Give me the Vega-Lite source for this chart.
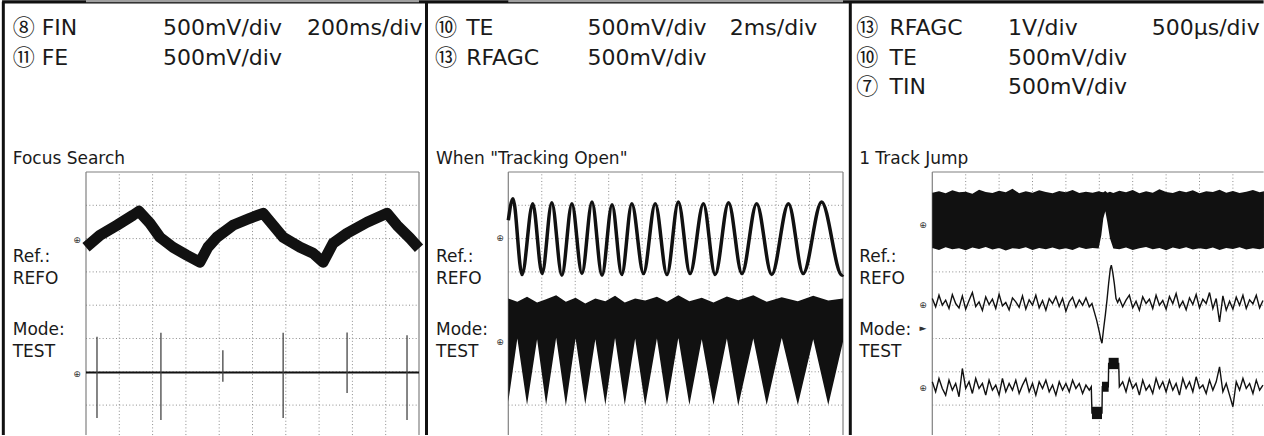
{
  "$schema": "https://vega.github.io/schema/vega-lite/v6.json",
  "padding": 0,
  "spacing": 0,
  "bounds": "flush",
  "background": "white",
  "config": {
    "view": {"stroke": null},
    "axis": {"disable": true},
    "legend": {"disable": true},
    "text": {"font": "DejaVu Sans", "color": "#1a1a1a", "align": "left", "baseline": "alphabetic"}
  },
  "datasets": {
    "gx": [{"t": -4, "v": -3.9, "v2": 4}, {"t": -3, "v": -3.9, "v2": 4}, {"t": -2, "v": -3.9, "v2": 4}, {"t": -1, "v": -3.9, "v2": 4}, {"t": 0, "v": -3.9, "v2": 4}, {"t": 1, "v": -3.9, "v2": 4}, {"t": 2, "v": -3.9, "v2": 4}, {"t": 3, "v": -3.9, "v2": 4}, {"t": 4, "v": -3.9, "v2": 4}],
    "gy": [{"v": -3, "t": -5, "t2": 5}, {"v": -2, "t": -5, "t2": 5}, {"v": -1, "t": -5, "t2": 5}, {"v": 0, "t": -5, "t2": 5}, {"v": 1, "t": -5, "t2": 5}, {"v": 2, "t": -5, "t2": 5}, {"v": 3, "t": -5, "t2": 5}],
    "gy3": [{"v": -3, "t": -5, "t2": 4.92}, {"v": -2, "t": -5, "t2": 4.92}, {"v": -1, "t": -5, "t2": 4.92}, {"v": 0, "t": -5, "t2": 4.92}, {"v": 1, "t": -5, "t2": 4.92}, {"v": 2, "t": -5, "t2": 4.92}, {"v": 3, "t": -5, "t2": 4.92}],
    "fv": [{"t": -5, "v": -3.9, "v2": 4}, {"t": 5, "v": -3.9, "v2": 4}],
    "fv3": [{"t": -5, "v": -3.9, "v2": 4}],
    "fh": [{"v": 4, "t": -5, "t2": 5}],
    "fh3": [{"v": 4, "t": -5, "t2": 4.92}],
    "tx": [{"t": -4.8}, {"t": -4.6}, {"t": -4.4}, {"t": -4.2}, {"t": -4}, {"t": -3.8}, {"t": -3.6}, {"t": -3.4}, {"t": -3.2}, {"t": -3}, {"t": -2.8}, {"t": -2.6}, {"t": -2.4}, {"t": -2.2}, {"t": -2}, {"t": -1.8}, {"t": -1.6}, {"t": -1.4}, {"t": -1.2}, {"t": -1}, {"t": -0.8}, {"t": -0.6}, {"t": -0.4}, {"t": -0.2}, {"t": 0.2}, {"t": 0.4}, {"t": 0.6}, {"t": 0.8}, {"t": 1}, {"t": 1.2}, {"t": 1.4}, {"t": 1.6}, {"t": 1.8}, {"t": 2}, {"t": 2.2}, {"t": 2.4}, {"t": 2.6}, {"t": 2.8}, {"t": 3}, {"t": 3.2}, {"t": 3.4}, {"t": 3.6}, {"t": 3.8}, {"t": 4}, {"t": 4.2}, {"t": 4.4}, {"t": 4.6}, {"t": 4.8}],
    "ty": [{"v": -3.8}, {"v": -3.6}, {"v": -3.4}, {"v": -3.2}, {"v": -3}, {"v": -2.8}, {"v": -2.6}, {"v": -2.4}, {"v": -2.2}, {"v": -2}, {"v": -1.8}, {"v": -1.6}, {"v": -1.4}, {"v": -1.2}, {"v": -1}, {"v": -0.8}, {"v": -0.6}, {"v": -0.4}, {"v": -0.2}, {"v": 0.2}, {"v": 0.4}, {"v": 0.6}, {"v": 0.8}, {"v": 1}, {"v": 1.2}, {"v": 1.4}, {"v": 1.6}, {"v": 1.8}, {"v": 2}, {"v": 2.2}, {"v": 2.4}, {"v": 2.6}, {"v": 2.8}, {"v": 3}, {"v": 3.2}, {"v": 3.4}, {"v": 3.6}, {"v": 3.8}],
    "p1_fin": [
      {"t": -5.0, "v": 1.74}, {"t": -4.58, "v": 2.10}, {"t": -4.07, "v": 2.40}, {"t": -3.59, "v": 2.70}, {"t": -3.41, "v": 2.82},
      {"t": -3.08, "v": 2.46}, {"t": -2.78, "v": 2.04}, {"t": -2.39, "v": 1.74}, {"t": -1.97, "v": 1.50}, {"t": -1.58, "v": 1.29},
      {"t": -1.34, "v": 1.74}, {"t": -1.07, "v": 2.04}, {"t": -0.59, "v": 2.40}, {"t": -0.08, "v": 2.61}, {"t": 0.32, "v": 2.76},
      {"t": 0.62, "v": 2.40}, {"t": 0.92, "v": 2.04}, {"t": 1.43, "v": 1.74}, {"t": 1.82, "v": 1.56}, {"t": 2.12, "v": 1.29},
      {"t": 2.42, "v": 1.86}, {"t": 2.84, "v": 2.16}, {"t": 3.44, "v": 2.49}, {"t": 4.04, "v": 2.76},
      {"t": 4.34, "v": 2.40}, {"t": 4.73, "v": 2.01}, {"t": 5.0, "v": 1.71}
    ],
    "p1_fe": [{"t": -5.0, "v": -2.02}, {"t": 5.0, "v": -2.02}],
    "p1_spk": [
      {"t": -4.67, "v": -0.95, "v2": -3.39}, {"t": -2.75, "v": -0.83, "v2": -3.45}, {"t": -0.89, "v": -1.35, "v2": -2.3},
      {"t": 0.92, "v": -0.83, "v2": -3.39}, {"t": 2.84, "v": -0.82, "v2": -2.64}, {"t": 4.64, "v": -0.9, "v2": -3.45}
    ],
    "p1_mk": [{"t": -5.27, "v": 1.96, "label": "⊕"}, {"t": -5.27, "v": -2.07, "label": "⊕"}],
    "p1_top": [{"t": -7.52, "t2": 5.2402, "v": 9.11}],
    "p1_left": [{"t": -7.483, "v": -3.9, "v2": 9.11}],
    "p1_num": [{"t": -7.2, "v": 8.11, "label": "⑧"}, {"t": -7.2, "v": 7.21, "label": "⑪"}],
    "p1_head": [
      {"t": -6.33, "v": 8.11, "label": "FIN"}, {"t": -2.69, "v": 8.11, "label": "500mV/div"}, {"t": 1.64, "v": 8.11, "label": "200ms/div"},
      {"t": -6.33, "v": 7.21, "label": "FE"}, {"t": -2.69, "v": 7.21, "label": "500mV/div"}
    ],
    "p1_side": [
      {"t": -7.2, "v": 4.24, "label": "Focus Search"}, {"t": -7.2, "v": 1.31, "label": "Ref.:"}, {"t": -7.2, "v": 0.64, "label": "REFO"},
      {"t": -7.2, "v": -0.88, "label": "Mode:"}, {"t": -7.2, "v": -1.55, "label": "TEST"}
    ],
    "p2_te": [
      {"t": -5.0, "v": 2.55}, {"t": -4.86, "v": 3.2}, {"t": -4.59, "v": 0.92}, {"t": -4.27, "v": 3.05}, {"t": -3.99, "v": 0.95},
      {"t": -3.70, "v": 3.08}, {"t": -3.40, "v": 0.9}, {"t": -3.10, "v": 3.05}, {"t": -2.80, "v": 0.95}, {"t": -2.50, "v": 3.1},
      {"t": -2.20, "v": 0.9}, {"t": -1.90, "v": 3.02}, {"t": -1.61, "v": 0.92}, {"t": -1.31, "v": 3.05}, {"t": -0.96, "v": 0.95},
      {"t": -0.61, "v": 3.05}, {"t": -0.26, "v": 0.92}, {"t": 0.08, "v": 3.1}, {"t": 0.43, "v": 0.95}, {"t": 0.83, "v": 3.05},
      {"t": 1.18, "v": 0.92}, {"t": 1.58, "v": 3.08}, {"t": 1.98, "v": 0.95}, {"t": 2.42, "v": 3.05}, {"t": 2.87, "v": 0.92},
      {"t": 3.37, "v": 3.05}, {"t": 3.81, "v": 0.95}, {"t": 4.36, "v": 3.1}, {"t": 4.97, "v": 0.9}, {"t": 5.0, "v": 0.92}
    ],
    "p2_rf": [
      {"t": -5.0, "v": 0.2, "v2": -2.9}, {"t": -4.73, "v": 0.1, "v2": -1.0}, {"t": -4.44, "v": 0.25, "v2": -3.0},
      {"t": -4.14, "v": 0.08, "v2": -1.02}, {"t": -3.87, "v": 0.18, "v2": -3.0}, {"t": -3.57, "v": 0.3, "v2": -0.98},
      {"t": -3.28, "v": 0.1, "v2": -3.02}, {"t": -2.99, "v": 0.22, "v2": -1.0}, {"t": -2.70, "v": 0.05, "v2": -2.98},
      {"t": -2.40, "v": 0.2, "v2": -1.02}, {"t": -2.10, "v": 0.12, "v2": -3.0}, {"t": -1.81, "v": 0.28, "v2": -0.98},
      {"t": -1.52, "v": 0.08, "v2": -3.0}, {"t": -1.21, "v": 0.2, "v2": -1.0}, {"t": -0.91, "v": 0.14, "v2": -3.02},
      {"t": -0.56, "v": 0.25, "v2": -1.0}, {"t": -0.26, "v": 0.1, "v2": -3.0}, {"t": 0.08, "v": 0.3, "v2": -0.98},
      {"t": 0.41, "v": 0.12, "v2": -3.0}, {"t": 0.78, "v": 0.22, "v2": -1.02}, {"t": 1.13, "v": 0.08, "v2": -3.0},
      {"t": 1.53, "v": 0.26, "v2": -1.0}, {"t": 1.87, "v": 0.15, "v2": -3.02}, {"t": 2.32, "v": 0.3, "v2": -1.0},
      {"t": 2.72, "v": 0.1, "v2": -3.0}, {"t": 3.17, "v": 0.24, "v2": -0.98}, {"t": 3.65, "v": 0.12, "v2": -3.0},
      {"t": 4.11, "v": 0.28, "v2": -1.02}, {"t": 4.56, "v": 0.14, "v2": -3.0}, {"t": 5.0, "v": 0.2, "v2": -1.1}
    ],
    "p2_mk": [{"t": -5.25, "v": 2.02, "label": "⊕"}, {"t": -5.25, "v": -1.11, "label": "⊕"}],
    "p2_top": [{"t": -7.429, "t2": 5.209, "v": 9.11}],
    "p2_left": [{"t": -7.444, "v": -3.9, "v2": 9.11}],
    "p2_num": [{"t": -7.19, "v": 8.11, "label": "⑩"}, {"t": -7.19, "v": 7.21, "label": "⑬"}],
    "p2_head": [
      {"t": -6.26, "v": 8.11, "label": "TE"}, {"t": -2.63, "v": 8.11, "label": "500mV/div"}, {"t": 1.62, "v": 8.11, "label": "2ms/div"},
      {"t": -6.26, "v": 7.21, "label": "RFAGC"}, {"t": -2.63, "v": 7.21, "label": "500mV/div"}
    ],
    "p2_side": [
      {"t": -7.16, "v": 4.24, "label": "When \"Tracking Open\""}, {"t": -7.16, "v": 1.31, "label": "Ref.:"}, {"t": -7.16, "v": 0.64, "label": "REFO"},
      {"t": -7.16, "v": -0.88, "label": "Mode:"}, {"t": -7.16, "v": -1.55, "label": "TEST"}
    ],
    "p3_rf": [
      {"t": -5.0, "v": 3.38, "v2": 1.72}, {"t": -4.8, "v": 3.42, "v2": 1.66}, {"t": -4.6, "v": 3.36, "v2": 1.74}, {"t": -4.4, "v": 3.45, "v2": 1.68},
      {"t": -4.2, "v": 3.39, "v2": 1.71}, {"t": -4.0, "v": 3.41, "v2": 1.65}, {"t": -3.8, "v": 3.35, "v2": 1.73}, {"t": -3.6, "v": 3.47, "v2": 1.69},
      {"t": -3.4, "v": 3.40, "v2": 1.75}, {"t": -3.2, "v": 3.37, "v2": 1.67}, {"t": -3.0, "v": 3.44, "v2": 1.72}, {"t": -2.8, "v": 3.39, "v2": 1.64},
      {"t": -2.6, "v": 3.50, "v2": 1.71}, {"t": -2.4, "v": 3.36, "v2": 1.69}, {"t": -2.2, "v": 3.42, "v2": 1.74}, {"t": -2.0, "v": 3.38, "v2": 1.66},
      {"t": -1.8, "v": 3.45, "v2": 1.72}, {"t": -1.6, "v": 3.40, "v2": 1.68}, {"t": -1.4, "v": 3.36, "v2": 1.73}, {"t": -1.2, "v": 3.43, "v2": 1.67},
      {"t": -1.0, "v": 3.39, "v2": 1.71}, {"t": -0.8, "v": 3.46, "v2": 1.66}, {"t": -0.6, "v": 3.37, "v2": 1.74}, {"t": -0.4, "v": 3.41, "v2": 1.69},
      {"t": -0.2, "v": 3.38, "v2": 1.72}, {"t": -0.02, "v": 3.42, "v2": 1.70}, {"t": 0.06, "v": 3.40, "v2": 2.1}, {"t": 0.12, "v": 3.39, "v2": 2.6},
      {"t": 0.18, "v": 3.43, "v2": 2.82}, {"t": 0.24, "v": 3.38, "v2": 2.5}, {"t": 0.32, "v": 3.41, "v2": 2.0}, {"t": 0.42, "v": 3.37, "v2": 1.70},
      {"t": 0.6, "v": 3.44, "v2": 1.68}, {"t": 0.8, "v": 3.39, "v2": 1.73}, {"t": 1.0, "v": 3.46, "v2": 1.66}, {"t": 1.2, "v": 3.36, "v2": 1.71},
      {"t": 1.4, "v": 3.42, "v2": 1.75}, {"t": 1.6, "v": 3.38, "v2": 1.68}, {"t": 1.8, "v": 3.48, "v2": 1.72}, {"t": 2.0, "v": 3.40, "v2": 1.65},
      {"t": 2.2, "v": 3.37, "v2": 1.73}, {"t": 2.4, "v": 3.44, "v2": 1.69}, {"t": 2.6, "v": 3.39, "v2": 1.74}, {"t": 2.8, "v": 3.45, "v2": 1.67},
      {"t": 3.0, "v": 3.36, "v2": 1.71}, {"t": 3.2, "v": 3.42, "v2": 1.68}, {"t": 3.4, "v": 3.40, "v2": 1.73}, {"t": 3.6, "v": 3.47, "v2": 1.66},
      {"t": 3.8, "v": 3.38, "v2": 1.72}, {"t": 4.0, "v": 3.43, "v2": 1.69}, {"t": 4.2, "v": 3.37, "v2": 1.74}, {"t": 4.4, "v": 3.41, "v2": 1.67},
      {"t": 4.6, "v": 3.46, "v2": 1.71}, {"t": 4.8, "v": 3.39, "v2": 1.68}, {"t": 4.93, "v": 3.42, "v2": 1.72}
    ],
    "p3_te": [
      {"t": -5.0, "v": 0.2}, {"t": -4.9, "v": -0.05}, {"t": -4.8, "v": 0.3}, {"t": -4.7, "v": 0.0}, {"t": -4.6, "v": 0.15},
      {"t": -4.5, "v": -0.1}, {"t": -4.4, "v": 0.32}, {"t": -4.3, "v": 0.05}, {"t": -4.2, "v": -0.08}, {"t": -4.1, "v": 0.28},
      {"t": -4.0, "v": -0.12}, {"t": -3.9, "v": 0.14}, {"t": -3.8, "v": 0.38}, {"t": -3.7, "v": -0.04}, {"t": -3.6, "v": 0.1},
      {"t": -3.5, "v": -0.16}, {"t": -3.4, "v": 0.25}, {"t": -3.3, "v": 0.02}, {"t": -3.2, "v": 0.18}, {"t": -3.1, "v": -0.1},
      {"t": -3.0, "v": 0.33}, {"t": -2.9, "v": -0.02}, {"t": -2.8, "v": 0.08}, {"t": -2.7, "v": -0.14}, {"t": -2.6, "v": 0.22},
      {"t": -2.5, "v": 0.1}, {"t": -2.4, "v": -0.06}, {"t": -2.3, "v": 0.28}, {"t": -2.2, "v": -0.12}, {"t": -2.1, "v": 0.16},
      {"t": -2.0, "v": 0.0}, {"t": -1.9, "v": 0.3}, {"t": -1.8, "v": -0.08}, {"t": -1.7, "v": 0.14}, {"t": -1.6, "v": -0.15},
      {"t": -1.5, "v": 0.2}, {"t": -1.4, "v": 0.05}, {"t": -1.3, "v": 0.26}, {"t": -1.2, "v": -0.04}, {"t": -1.1, "v": 0.2},
      {"t": -1.0, "v": -0.18}, {"t": -0.9, "v": 0.1}, {"t": -0.8, "v": 0.24}, {"t": -0.7, "v": -0.06}, {"t": -0.6, "v": 0.16},
      {"t": -0.5, "v": 0.0}, {"t": -0.4, "v": 0.22}, {"t": -0.3, "v": -0.05},
      {"t": -0.22, "v": 0.05}, {"t": -0.15, "v": -0.2}, {"t": -0.08, "v": -0.45}, {"t": 0.0, "v": -0.8}, {"t": 0.05, "v": -1.05},
      {"t": 0.08, "v": -1.14}, {"t": 0.13, "v": -0.7}, {"t": 0.18, "v": -0.3}, {"t": 0.23, "v": 0.15}, {"t": 0.28, "v": 0.66},
      {"t": 0.33, "v": 1.1}, {"t": 0.36, "v": 1.2}, {"t": 0.40, "v": 1.0}, {"t": 0.45, "v": 0.65}, {"t": 0.5, "v": 0.2}, {"t": 0.55, "v": 0.08},
      {"t": 0.6, "v": 0.2}, {"t": 0.7, "v": -0.05}, {"t": 0.8, "v": 0.15}, {"t": 0.9, "v": 0.3}, {"t": 1.0, "v": -0.08},
      {"t": 1.1, "v": 0.12}, {"t": 1.2, "v": -0.15}, {"t": 1.3, "v": 0.25}, {"t": 1.4, "v": 0.05}, {"t": 1.5, "v": 0.18},
      {"t": 1.6, "v": -0.1}, {"t": 1.7, "v": 0.3}, {"t": 1.8, "v": 0.0}, {"t": 1.9, "v": 0.14}, {"t": 2.0, "v": -0.12},
      {"t": 2.1, "v": 0.26}, {"t": 2.2, "v": 0.05}, {"t": 2.3, "v": 0.35}, {"t": 2.4, "v": -0.06}, {"t": 2.5, "v": 0.12},
      {"t": 2.6, "v": -0.14}, {"t": 2.7, "v": 0.22}, {"t": 2.8, "v": 0.02}, {"t": 2.9, "v": 0.32}, {"t": 3.0, "v": -0.08},
      {"t": 3.1, "v": 0.18}, {"t": 3.2, "v": 0.05}, {"t": 3.3, "v": 0.38}, {"t": 3.4, "v": -0.1}, {"t": 3.5, "v": 0.2},
      {"t": 3.6, "v": -0.5}, {"t": 3.7, "v": 0.28}, {"t": 3.8, "v": -0.15}, {"t": 3.9, "v": 0.12}, {"t": 4.0, "v": -0.12},
      {"t": 4.1, "v": 0.24}, {"t": 4.2, "v": 0.0}, {"t": 4.3, "v": 0.3}, {"t": 4.4, "v": -0.1}, {"t": 4.5, "v": 0.16},
      {"t": 4.6, "v": 0.04}, {"t": 4.7, "v": 0.3}, {"t": 4.8, "v": -0.08}, {"t": 4.9, "v": 0.14}
    ],
    "p3_tin": [
      {"t": -5.0, "v": -2.3}, {"t": -4.9, "v": -2.6}, {"t": -4.8, "v": -2.2}, {"t": -4.7, "v": -2.5}, {"t": -4.6, "v": -2.7},
      {"t": -4.5, "v": -2.25}, {"t": -4.4, "v": -2.55}, {"t": -4.3, "v": -2.35}, {"t": -4.2, "v": -2.75}, {"t": -4.1, "v": -1.9},
      {"t": -4.0, "v": -2.5}, {"t": -3.9, "v": -2.3}, {"t": -3.8, "v": -2.65}, {"t": -3.7, "v": -2.2}, {"t": -3.6, "v": -2.5},
      {"t": -3.5, "v": -2.35}, {"t": -3.4, "v": -2.7}, {"t": -3.3, "v": -2.25}, {"t": -3.2, "v": -2.55}, {"t": -3.1, "v": -2.4},
      {"t": -3.0, "v": -2.7}, {"t": -2.9, "v": -2.2}, {"t": -2.8, "v": -2.6}, {"t": -2.7, "v": -2.35}, {"t": -2.6, "v": -2.55},
      {"t": -2.5, "v": -2.25}, {"t": -2.4, "v": -2.65}, {"t": -2.3, "v": -2.4}, {"t": -2.2, "v": -2.2}, {"t": -2.1, "v": -2.6},
      {"t": -2.0, "v": -2.35}, {"t": -1.9, "v": -2.7}, {"t": -1.8, "v": -2.3}, {"t": -1.7, "v": -2.5}, {"t": -1.6, "v": -2.25},
      {"t": -1.5, "v": -2.6}, {"t": -1.4, "v": -2.4}, {"t": -1.3, "v": -2.7}, {"t": -1.2, "v": -2.3}, {"t": -1.1, "v": -2.55},
      {"t": -1.0, "v": -2.35}, {"t": -0.9, "v": -2.6}, {"t": -0.8, "v": -2.25}, {"t": -0.7, "v": -2.5}, {"t": -0.6, "v": -2.35},
      {"t": -0.5, "v": -2.65}, {"t": -0.4, "v": -2.4}, {"t": -0.3, "v": -2.55},
      {"t": -0.24, "v": -2.45}, {"t": -0.22, "v": -3.24}, {"t": 0.08, "v": -3.24}, {"t": 0.09, "v": -2.45}, {"t": 0.27, "v": -2.45},
      {"t": 0.28, "v": -1.75}, {"t": 0.58, "v": -1.75}, {"t": 0.6, "v": -2.45},
      {"t": 0.7, "v": -2.3}, {"t": 0.8, "v": -2.6}, {"t": 0.9, "v": -2.2}, {"t": 1.0, "v": -2.5}, {"t": 1.1, "v": -2.35},
      {"t": 1.2, "v": -2.7}, {"t": 1.3, "v": -2.25}, {"t": 1.4, "v": -2.55}, {"t": 1.5, "v": -2.4}, {"t": 1.6, "v": -2.65},
      {"t": 1.7, "v": -2.2}, {"t": 1.8, "v": -2.5}, {"t": 1.9, "v": -2.3}, {"t": 2.0, "v": -2.6}, {"t": 2.1, "v": -2.25},
      {"t": 2.2, "v": -2.55}, {"t": 2.3, "v": -2.35}, {"t": 2.4, "v": -2.7}, {"t": 2.5, "v": -2.2}, {"t": 2.6, "v": -2.5},
      {"t": 2.7, "v": -2.3}, {"t": 2.8, "v": -2.6}, {"t": 2.9, "v": -2.15}, {"t": 3.0, "v": -2.5}, {"t": 3.1, "v": -2.4},
      {"t": 3.2, "v": -2.65}, {"t": 3.3, "v": -2.25}, {"t": 3.4, "v": -2.55}, {"t": 3.5, "v": -2.3}, {"t": 3.6, "v": -1.85},
      {"t": 3.7, "v": -2.6}, {"t": 3.8, "v": -2.35}, {"t": 3.9, "v": -2.7}, {"t": 4.0, "v": -3.05}, {"t": 4.1, "v": -2.3},
      {"t": 4.2, "v": -2.55}, {"t": 4.3, "v": -2.2}, {"t": 4.4, "v": -2.5}, {"t": 4.5, "v": -2.35}, {"t": 4.6, "v": -2.65},
      {"t": 4.7, "v": -2.25}, {"t": 4.8, "v": -2.55}, {"t": 4.9, "v": -2.4}
    ],
    "p3_blk": [
      {"t": -0.22, "t2": 0.08, "v": -3.05, "v2": -3.42},
      {"t": 0.08, "t2": 0.28, "v": -2.3, "v2": -2.6},
      {"t": 0.28, "t2": 0.58, "v": -1.58, "v2": -1.92}
    ],
    "p3_mk": [{"t": -5.28, "v": 2.41, "label": "⊕"}, {"t": -5.28, "v": 0.01, "label": "⊕"}, {"t": -5.28, "v": -0.68, "label": "►"}, {"t": -5.28, "v": -2.48, "label": "⊕"}],
    "p3_top": [{"t": -7.464, "t2": 4.92, "v": 9.11}],
    "p3_left": [{"t": -7.455, "v": -3.9, "v2": 9.11}],
    "p3_num": [{"t": -7.28, "v": 8.11, "label": "⑬"}, {"t": -7.28, "v": 7.21, "label": "⑩"}, {"t": -7.28, "v": 6.33, "label": "⑦"}],
    "p3_head": [
      {"t": -6.28, "v": 8.11, "label": "RFAGC"}, {"t": -2.73, "v": 8.11, "label": "1V/div"}, {"t": 1.57, "v": 8.11, "label": "500μs/div"},
      {"t": -6.28, "v": 7.21, "label": "TE"}, {"t": -2.73, "v": 7.21, "label": "500mV/div"},
      {"t": -6.28, "v": 6.33, "label": "TIN"}, {"t": -2.73, "v": 6.33, "label": "500mV/div"}
    ],
    "p3_side": [
      {"t": -7.19, "v": 4.24, "label": "1 Track Jump"}, {"t": -7.19, "v": 1.31, "label": "Ref.:"}, {"t": -7.19, "v": 0.64, "label": "REFO"},
      {"t": -7.19, "v": -0.88, "label": "Mode:"}, {"t": -7.19, "v": -1.55, "label": "TEST"}
    ]
  },
  "hconcat": [
    {
      "width": 427,
      "height": 436,
      "encoding": {
        "x": {"field": "t", "type": "quantitative", "scale": {"domain": [-7.5826, 5.2402], "nice": false, "zero": false}},
        "y": {"field": "v", "type": "quantitative", "scale": {"domain": [-3.928, 9.165], "nice": false, "zero": false}}
      },
      "layer": [
        {"data": {"name": "gx"}, "mark": {"type": "rule", "color": "#8c8c8c", "strokeWidth": 1, "strokeDash": [1, 2.33]}, "encoding": {"y2": {"field": "v2"}}},
        {"data": {"name": "gy"}, "mark": {"type": "rule", "color": "#8c8c8c", "strokeWidth": 1, "strokeDash": [1, 2.33]}, "encoding": {"x2": {"field": "t2"}}},
        {"data": {"name": "tx"}, "mark": {"type": "tick", "orient": "vertical", "color": "#8c8c8c", "thickness": 1, "size": 6}, "encoding": {"y": {"datum": 0}}},
        {"data": {"name": "ty"}, "mark": {"type": "tick", "orient": "horizontal", "color": "#8c8c8c", "thickness": 1, "size": 6}, "encoding": {"x": {"datum": 0}}},
        {"data": {"name": "fv"}, "mark": {"type": "rule", "color": "#808080", "strokeWidth": 1.2}, "encoding": {"y2": {"field": "v2"}}},
        {"data": {"name": "fh"}, "mark": {"type": "rule", "color": "#808080", "strokeWidth": 1.2}, "encoding": {"x2": {"field": "t2"}}},
        {"data": {"name": "p1_fin"}, "mark": {"type": "line", "color": "#111", "strokeWidth": 11, "strokeJoin": "round", "strokeCap": "butt"}, "encoding": {}},
        {"data": {"name": "p1_fe"}, "mark": {"type": "line", "color": "#111", "strokeWidth": 2}, "encoding": {}},
        {"data": {"name": "p1_spk"}, "mark": {"type": "rule", "color": "#444", "strokeWidth": 1.3}, "encoding": {"y2": {"field": "v2"}}},
        {"data": {"name": "p1_mk"}, "mark": {"type": "text", "fontSize": 9, "align": "center", "baseline": "middle", "color": "#333"}, "encoding": {"text": {"field": "label"}}},
        {"data": {"name": "p1_top"}, "mark": {"type": "rule", "color": "#111", "strokeWidth": 3.4}, "encoding": {"x2": {"field": "t2"}}},
        {"data": {"name": "fh"}, "mark": {"type": "rule", "color": "#a0a0a0", "strokeWidth": 2.2}, "encoding": {"x2": {"field": "t2"}, "y": {"datum": 9.13}}},
        {"data": {"name": "p1_left"}, "mark": {"type": "rule", "color": "#111", "strokeWidth": 3}, "encoding": {"y2": {"field": "v2"}}},
        {"data": {"name": "p1_num"}, "mark": {"type": "text", "fontSize": 22, "font": "Noto Sans CJK JP"}, "encoding": {"text": {"field": "label"}}},
        {"data": {"name": "p1_head"}, "mark": {"type": "text", "fontSize": 22}, "encoding": {"text": {"field": "label"}}},
        {"data": {"name": "p1_side"}, "mark": {"type": "text", "fontSize": 17}, "encoding": {"text": {"field": "label"}}}
      ]
    },
    {
      "width": 423,
      "height": 436,
      "encoding": {
        "x": {"field": "t", "type": "quantitative", "scale": {"domain": [-7.429, 5.209], "nice": false, "zero": false}},
        "y": {"field": "v", "type": "quantitative", "scale": {"domain": [-3.928, 9.165], "nice": false, "zero": false}}
      },
      "layer": [
        {"data": {"name": "gx"}, "mark": {"type": "rule", "color": "#8c8c8c", "strokeWidth": 1, "strokeDash": [1, 2.33]}, "encoding": {"y2": {"field": "v2"}}},
        {"data": {"name": "gy"}, "mark": {"type": "rule", "color": "#8c8c8c", "strokeWidth": 1, "strokeDash": [1, 2.33]}, "encoding": {"x2": {"field": "t2"}}},
        {"data": {"name": "tx"}, "mark": {"type": "tick", "orient": "vertical", "color": "#8c8c8c", "thickness": 1, "size": 6}, "encoding": {"y": {"datum": 0}}},
        {"data": {"name": "ty"}, "mark": {"type": "tick", "orient": "horizontal", "color": "#8c8c8c", "thickness": 1, "size": 6}, "encoding": {"x": {"datum": 0}}},
        {"data": {"name": "fv"}, "mark": {"type": "rule", "color": "#808080", "strokeWidth": 1.2}, "encoding": {"y2": {"field": "v2"}}},
        {"data": {"name": "fh"}, "mark": {"type": "rule", "color": "#808080", "strokeWidth": 1.2}, "encoding": {"x2": {"field": "t2"}}},
        {"data": {"name": "p2_rf"}, "mark": {"type": "area", "color": "#111", "orient": "vertical", "opacity": 1}, "encoding": {"y2": {"field": "v2"}}},
        {"data": {"name": "p2_te"}, "mark": {"type": "line", "color": "#111", "strokeWidth": 3.5, "interpolate": "monotone"}, "encoding": {}},
        {"data": {"name": "p2_mk"}, "mark": {"type": "text", "fontSize": 9, "align": "center", "baseline": "middle", "color": "#333"}, "encoding": {"text": {"field": "label"}}},
        {"data": {"name": "p2_top"}, "mark": {"type": "rule", "color": "#111", "strokeWidth": 3.4}, "encoding": {"x2": {"field": "t2"}}},
        {"data": {"name": "fh"}, "mark": {"type": "rule", "color": "#a0a0a0", "strokeWidth": 2.2}, "encoding": {"x2": {"field": "t2"}, "y": {"datum": 9.13}}},
        {"data": {"name": "p2_left"}, "mark": {"type": "rule", "color": "#111", "strokeWidth": 3}, "encoding": {"y2": {"field": "v2"}}},
        {"data": {"name": "p2_num"}, "mark": {"type": "text", "fontSize": 22, "font": "Noto Sans CJK JP"}, "encoding": {"text": {"field": "label"}}},
        {"data": {"name": "p2_head"}, "mark": {"type": "text", "fontSize": 22}, "encoding": {"text": {"field": "label"}}},
        {"data": {"name": "p2_side"}, "mark": {"type": "text", "fontSize": 17}, "encoding": {"text": {"field": "label"}}}
      ]
    },
    {
      "width": 414,
      "height": 436,
      "encoding": {
        "x": {"field": "t", "type": "quantitative", "scale": {"domain": [-7.464, 4.931], "nice": false, "zero": false}},
        "y": {"field": "v", "type": "quantitative", "scale": {"domain": [-3.928, 9.165], "nice": false, "zero": false}}
      },
      "layer": [
        {"data": {"name": "gx"}, "mark": {"type": "rule", "color": "#8c8c8c", "strokeWidth": 1, "strokeDash": [1, 2.33]}, "encoding": {"y2": {"field": "v2"}}},
        {"data": {"name": "gy3"}, "mark": {"type": "rule", "color": "#8c8c8c", "strokeWidth": 1, "strokeDash": [1, 2.33]}, "encoding": {"x2": {"field": "t2"}}},
        {"data": {"name": "tx"}, "mark": {"type": "tick", "orient": "vertical", "color": "#8c8c8c", "thickness": 1, "size": 6}, "encoding": {"y": {"datum": 0}}},
        {"data": {"name": "ty"}, "mark": {"type": "tick", "orient": "horizontal", "color": "#8c8c8c", "thickness": 1, "size": 6}, "encoding": {"x": {"datum": 0}}},
        {"data": {"name": "fv3"}, "mark": {"type": "rule", "color": "#808080", "strokeWidth": 1.2}, "encoding": {"y2": {"field": "v2"}}},
        {"data": {"name": "fh3"}, "mark": {"type": "rule", "color": "#808080", "strokeWidth": 1.2}, "encoding": {"x2": {"field": "t2"}}},
        {"data": {"name": "p3_rf"}, "mark": {"type": "area", "color": "#111", "orient": "vertical", "opacity": 1}, "encoding": {"y2": {"field": "v2"}}},
        {"data": {"name": "p3_te"}, "mark": {"type": "line", "color": "#111", "strokeWidth": 1.4}, "encoding": {}},
        {"data": {"name": "p3_tin"}, "mark": {"type": "line", "color": "#111", "strokeWidth": 1.4}, "encoding": {}},
        {"data": {"name": "p3_blk"}, "mark": {"type": "rect", "color": "#111"}, "encoding": {"x2": {"field": "t2"}, "y2": {"field": "v2"}}},
        {"data": {"name": "p3_mk"}, "mark": {"type": "text", "fontSize": 9, "align": "center", "baseline": "middle", "color": "#333"}, "encoding": {"text": {"field": "label"}}},
        {"data": {"name": "p3_top"}, "mark": {"type": "rule", "color": "#111", "strokeWidth": 3.4}, "encoding": {"x2": {"field": "t2"}}},
        {"data": {"name": "p3_left"}, "mark": {"type": "rule", "color": "#111", "strokeWidth": 3}, "encoding": {"y2": {"field": "v2"}}},
        {"data": {"name": "p3_num"}, "mark": {"type": "text", "fontSize": 22, "font": "Noto Sans CJK JP"}, "encoding": {"text": {"field": "label"}}},
        {"data": {"name": "p3_head"}, "mark": {"type": "text", "fontSize": 22}, "encoding": {"text": {"field": "label"}}},
        {"data": {"name": "p3_side"}, "mark": {"type": "text", "fontSize": 17}, "encoding": {"text": {"field": "label"}}}
      ]
    }
  ]
}
